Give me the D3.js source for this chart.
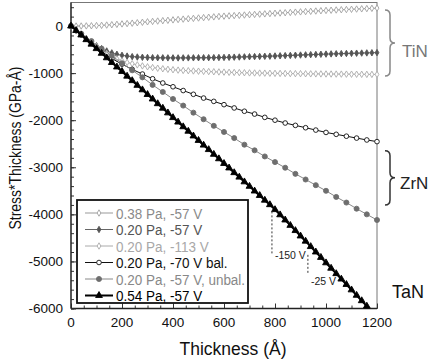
<!DOCTYPE html>
<html>
<head>
<meta charset="utf-8">
<script src="https://cdn.jsdelivr.net/npm/d3@7"></script>
<style>
  body { margin: 0; background: #fff; }
  svg { display: block; font-family: "Liberation Sans", Arial, sans-serif; }
</style>
</head>
<body>
<div id="chart"></div>
<script>
// thickness grids (Å)
var thick20 = [0, 20, 40, 60, 80, 100, 120, 140, 160, 180, 200, 220, 240, 260, 280, 300, 320, 340, 360, 380,
  400, 420, 440, 460, 480, 500, 520, 540, 560, 580, 600, 620, 640, 660, 680, 700, 720, 740, 760, 780,
  800, 820, 840, 860, 880, 900, 920, 940, 960, 980, 1000, 1020, 1040, 1060, 1080, 1100, 1120, 1140, 1160, 1180, 1200];
var thick40 = [0, 40, 80, 120, 160, 200, 240, 280, 320, 360, 400, 440, 480, 520, 560, 600, 640, 680, 720, 760,
  800, 840, 880, 920, 960, 1000, 1040, 1080, 1120, 1160, 1200];

// stress*thickness (GPa-Å)
var tin038_57 = [0, 0, 1, 3, 6, 10, 15, 21, 28, 36, 45, 53, 61, 70, 80, 90, 98, 106, 114, 122,
  131, 139, 147, 155, 163, 171, 179, 187, 195, 203, 210, 216, 222, 228, 234, 241, 247, 253, 259, 265,
  271, 277, 283, 289, 295, 301, 307, 313, 319, 325, 331, 336, 341, 346, 351, 356, 361, 366, 371, 376, 380];
var tin020_57 = [0, -95, -185, -270, -350, -420, -480, -530, -570, -600, -622, -638, -650, -658, -664, -668, -672, -674, -675, -676,
  -676, -677, -676, -676, -675, -674, -673, -672, -671, -669, -667, -664, -661, -658, -655, -652, -649, -646, -643, -640,
  -636, -632, -628, -624, -620, -616, -612, -608, -604, -600, -596, -592, -589, -586, -583, -580, -577, -574, -571, -568, -565];
var tin020_113 = [0, -85, -175, -265, -350, -435, -515, -585, -645, -695, -738, -772, -800, -825, -847, -866, -882, -896, -908, -919,
  -928, -936, -943, -949, -954, -959, -963, -967, -971, -975, -979, -983, -986, -989, -992, -995, -997, -999, -1001, -1003,
  -1005, -1007, -1008, -1010, -1011, -1012, -1014, -1015, -1016, -1017, -1018, -1019, -1020, -1021, -1022, -1023, -1024, -1025, -1026, -1027, -1028];
var zrnBal = [0, -180, -370, -540, -690, -810, -920, -1020, -1120, -1210, -1290, -1370, -1450, -1530, -1600, -1670,
  -1740, -1810, -1870, -1940, -2000, -2060, -2110, -2160, -2210, -2260, -2300, -2340, -2380, -2420, -2455];
var zrnUnbal = [0, -160, -320, -480, -630, -790, -940, -1090, -1250, -1400, -1550, -1690, -1840, -1980, -2120, -2250,
  -2380, -2520, -2640, -2770, -2890, -3010, -3140, -3260, -3380, -3500, -3630, -3750, -3880, -4000, -4120];
var tan054_57 = [0, -95, -190, -290, -385, -480, -580, -675, -775, -870, -965, -1065, -1160, -1260, -1355, -1455, -1550, -1650, -1745, -1845,
  -1945, -2040, -2140, -2235, -2335, -2430, -2530, -2625, -2725, -2820, -2920, -3015, -3115, -3210, -3310, -3405, -3505, -3600, -3700, -3795,
  -3900, -4010, -4120, -4235, -4345, -4460, -4570, -4685, -4800, -4915, -5030, -5145, -5260, -5375, -5490, -5605, -5720, -5835, -5950];

var seriesNames = ["0.38 Pa, -57 V", "0.20 Pa, -57 V", "0.20 Pa, -113 V", "0.20 Pa, -70 V bal.", "0.20 Pa, -57 V, unbal.", "0.54 Pa, -57 V"];
var xTicks = [0, 200, 400, 600, 800, 1000, 1200];
var yTicks = [0, -1000, -2000, -3000, -4000, -5000, -6000];
var biasSteps = [788, 929];
var biasLabels = ["-150 V", "-25 V"];

var width = 429, height = 360;
var margin = { top: 2.5, right: 52, bottom: 51.5, left: 71 };

var x = d3.scaleLinear().domain([0, 1200]).range([margin.left, width - margin.right]);
var y = d3.scaleLinear().domain([-6000, 500]).range([height - margin.bottom, margin.top]);

var styles = [
  { xs: thick20, ys: tin038_57, shape: "diamond", fill: "#fff", stroke: "#a0a0a0", line: "#999", lw: 1, size: 12, text: "#8a8a8a" },
  { xs: thick20, ys: tin020_57, shape: "diamond", fill: "#555", stroke: "#555", line: "#666", lw: 1, size: 12, text: "#555" },
  { xs: thick20, ys: tin020_113, shape: "diamond", fill: "#fff", stroke: "#aaa", line: "#aaa", lw: 1, size: 12, text: "#a8a8a8" },
  { xs: thick40, ys: zrnBal, shape: "circle", fill: "#fff", stroke: "#111", line: "#111", lw: 1, size: 17, text: "#111" },
  { xs: thick40, ys: zrnUnbal, shape: "circle", fill: "#6e6e6e", stroke: "#6e6e6e", line: "#888", lw: 1, size: 20, text: "#888" },
  { xs: thick20, ys: tan054_57, shape: "triangle", fill: "#000", stroke: "#000", line: "#000", lw: 2, size: 20, text: "#000" }
];

function symbolFor(s) {
  var t = s.shape === "diamond" ? d3.symbolDiamond : s.shape === "circle" ? d3.symbolCircle : d3.symbolTriangle;
  return d3.symbol().type(t).size(s.size);
}

var svg = d3.select("#chart").append("svg").attr("width", width).attr("height", height);
svg.append("rect").attr("width", width).attr("height", height).attr("fill", "#fff");

// frame
svg.append("rect")
  .attr("x", x(0)).attr("y", y(500))
  .attr("width", x(1200) - x(0)).attr("height", y(-6000) - y(500))
  .attr("fill", "none").attr("stroke", "#777").attr("stroke-width", 1);

// axes with inward ticks
var xMinor = d3.range(0, 1201, 50);
var yMinor = d3.range(-6000, 501, 200);
var gx = svg.append("g").attr("transform", "translate(0," + y(-6000) + ")");
gx.call(d3.axisBottom(x).tickValues(xMinor).tickSize(-3).tickFormat(""));
gx.call(function(g) { g.select(".domain").remove(); });
gx.append("g").call(d3.axisBottom(x).tickValues(xTicks).tickSize(-5).tickFormat(""))
  .call(function(g) { g.select(".domain").remove(); });
gx.append("line").attr("x1", x(0)).attr("x2", x(1200)).attr("stroke", "#222").attr("stroke-width", 1.3);
gx.selectAll(".tick line").attr("stroke", "#333");
gx.selectAll(".xl").data(xTicks).enter().append("text")
  .attr("x", function(d) { return x(d); }).attr("y", 18)
  .attr("text-anchor", "middle").attr("font-size", 13.5).attr("fill", "#111")
  .text(function(d) { return d; });

var gy = svg.append("g").attr("transform", "translate(" + x(0) + ",0)");
gy.call(d3.axisLeft(y).tickValues(yMinor).tickSize(-3).tickFormat(""));
gy.call(function(g) { g.select(".domain").remove(); });
gy.append("g").call(d3.axisLeft(y).tickValues(yTicks).tickSize(-5).tickFormat(""))
  .call(function(g) { g.select(".domain").remove(); });
gy.append("line").attr("y1", y(500)).attr("y2", y(-6000)).attr("stroke", "#222").attr("stroke-width", 1.3);
gy.selectAll(".tick line").attr("stroke", "#333");
gy.selectAll(".yl").data(yTicks).enter().append("text")
  .attr("x", -8).attr("y", function(d) { return y(d) + 4.5; })
  .attr("text-anchor", "end").attr("font-size", 13.5).attr("fill", "#111")
  .text(function(d) { return d; });

// axis titles
svg.append("text").attr("x", 233).attr("y", 355).attr("text-anchor", "middle")
  .attr("font-size", 17.5).attr("fill", "#111").text("Thickness (Å)");
svg.append("text").attr("transform", "translate(21,148) rotate(-90)").attr("text-anchor", "middle")
  .attr("font-size", 17).attr("textLength", 163).attr("lengthAdjust", "spacingAndGlyphs")
  .attr("fill", "#111").text("Stress*Thickness (GPa-Å)");

// series
var line = d3.line().x(function(d) { return x(d[0]); }).y(function(d) { return y(d[1]); });
styles.forEach(function(s) {
  var pts = s.ys.map(function(v, i) { return [s.xs[i], v]; });
  svg.append("path").datum(pts).attr("d", line)
    .attr("fill", "none").attr("stroke", s.line).attr("stroke-width", s.lw);
  svg.append("g").selectAll("path").data(pts).enter().append("path")
    .attr("d", symbolFor(s))
    .attr("transform", function(d) { return "translate(" + x(d[0]) + "," + y(d[1]) + ")"; })
    .attr("fill", s.fill).attr("stroke", s.stroke).attr("stroke-width", 0.9);
});

// bias-step markers on TaN
var tanAt = function(t) {
  var i = d3.bisectLeft(thick20, t);
  var a = thick20[i - 1], b = thick20[i];
  return tan054_57[i - 1] + (tan054_57[i] - tan054_57[i - 1]) * (t - a) / (b - a);
};
var dropEnds = [[tanAt(biasSteps[0]) - 100, -4860], [-4860, -5250]];
biasSteps.forEach(function(t, i) {
  svg.append("line")
    .attr("x1", x(t)).attr("x2", x(t))
    .attr("y1", y(dropEnds[i][0])).attr("y2", y(dropEnds[i][1]))
    .attr("stroke", "#333").attr("stroke-width", 1).attr("stroke-dasharray", "2,2");
  svg.append("text")
    .attr("x", x(t) + 3).attr("y", y(dropEnds[i][1]) + (i === 0 ? 4 : 12))
    .attr("font-size", 10.5).attr("fill", "#222").text(biasLabels[i]);
});

// legend
var lg = svg.append("g");
lg.append("rect").attr("x", 77).attr("y", 200).attr("width", 171).attr("height", 103)
  .attr("fill", "#fff").attr("stroke", "#111").attr("stroke-width", 1.8);
styles.forEach(function(s, i) {
  var ry = 213 + i * 16.5;
  lg.append("line").attr("x1", 85).attr("x2", 113).attr("y1", ry).attr("y2", ry)
    .attr("stroke", s.line).attr("stroke-width", s.lw);
  lg.append("path").attr("d", symbolFor(s)).attr("transform", "translate(99," + ry + ")")
    .attr("fill", s.fill).attr("stroke", s.stroke).attr("stroke-width", 0.9);
  lg.append("text").attr("transform", "translate(116," + (ry + 5.5) + ") scale(0.87,1)")
    .attr("font-size", 15.5).attr("fill", s.text).text(seriesNames[i]);
});

// group braces
function brace(x0, y0, y1, w) {
  var ym = (y0 + y1) / 2, r = 5, xm = x0 + w / 2;
  return "M" + x0 + "," + y0 + " Q" + xm + "," + y0 + " " + xm + "," + (y0 + r) +
    " L" + xm + "," + (ym - r) + " Q" + xm + "," + ym + " " + (x0 + w) + "," + ym +
    " Q" + xm + "," + ym + " " + xm + "," + (ym + r) +
    " L" + xm + "," + (y1 - r) + " Q" + xm + "," + y1 + " " + x0 + "," + y1;
}
svg.append("path").attr("d", brace(385, y(340), y(-1060), 10))
  .attr("fill", "none").attr("stroke", "#888").attr("stroke-width", 1.5);
svg.append("path").attr("d", brace(385, y(-2650), y(-3800), 10))
  .attr("fill", "none").attr("stroke", "#333").attr("stroke-width", 1.5);
svg.append("text").attr("x", 402).attr("y", 57).attr("font-size", 17).attr("fill", "#777").text("TiN");
svg.append("text").attr("x", 400).attr("y", 189).attr("font-size", 17).attr("fill", "#222").text("ZrN");
svg.append("text").attr("x", 392).attr("y", 298).attr("font-size", 18).attr("fill", "#111").text("TaN");
</script>
</body>
</html>
